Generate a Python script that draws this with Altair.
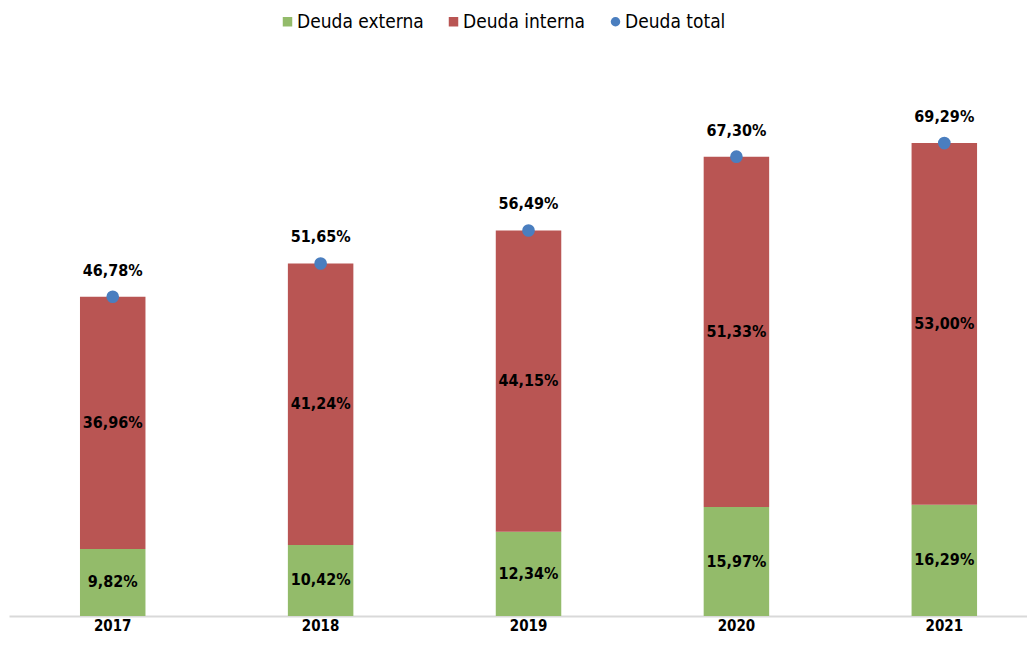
import altair as alt
import pandas as pd

years = ["2017", "2018", "2019", "2020", "2021"]
externa = [9.82, 10.42, 12.34, 15.97, 16.29]
interna = [36.96, 41.24, 44.15, 51.33, 53.00]
total = [46.78, 51.65, 56.49, 67.30, 69.29]
series = ["Deuda externa", "Deuda interna", "Deuda total"]
colors = ["#93bb6a", "#b95553", "#4a7ebf"]
shapes = ["square", "square", "circle"]

FONT = "DejaVu Sans Condensed"


def fmt(v):
    return f"{v:.2f}".replace(".", ",") + "%"


rows = []
for i, yr in enumerate(years):
    rows.append(dict(anio=yr, serie=series[0], valor=externa[i], orden=0, etiqueta=fmt(externa[i])))
    rows.append(dict(anio=yr, serie=series[1], valor=interna[i], orden=1, etiqueta=fmt(interna[i])))
bars_df = pd.DataFrame(rows)
tot_df = pd.DataFrame(dict(anio=years, serie=[series[2]] * len(years), valor=total,
                           etiqueta=[fmt(v) for v in total]))

x = alt.X(
    "anio:N", title=None,
    scale=alt.Scale(paddingInner=0.685, paddingOuter=0.2908, align=0.587),
    axis=alt.Axis(labelAngle=0, ticks=False, domainColor="#d9d9d9", domainWidth=2,
                  labelFont=FONT, labelFontSize=15, labelFontWeight="bold",
                  labelColor="black", labelPadding=2),
)
yscale = alt.Scale(domain=[0, 80], nice=False, zero=True)
cscale = alt.Scale(domain=series, range=colors)

legend = alt.Legend(
    title=None, orient="none", legendX=269, legendY=-58, direction="horizontal",
    labelFont=FONT, labelFontSize=19, labelColor="black", symbolSize=90,
    columnPadding=20, labelOffset=0, symbolStrokeWidth=0,
)

bars = alt.Chart(bars_df).mark_bar().encode(
    x=x,
    y=alt.Y("valor:Q", stack="zero", scale=yscale, axis=None),
    color=alt.Color("serie:N", scale=cscale, legend=legend),
    order=alt.Order("orden:Q"),
)

mids = alt.Chart(bars_df).transform_stack(
    stack="valor", groupby=["anio"], sort=[alt.SortField("orden")], as_=["v0", "v1"]
).transform_calculate(
    mid="(datum.v0 + datum.v1) / 2"
).mark_text(font=FONT, fontSize=16, fontWeight="bold", color="black").encode(
    x=x,
    y=alt.Y("mid:Q", scale=yscale, axis=None),
    text="etiqueta:N",
)

dots = alt.Chart(tot_df).mark_point(filled=True, opacity=1, size=160).encode(
    x=x,
    y=alt.Y("valor:Q", scale=yscale, axis=None),
    color=alt.Color("serie:N", scale=cscale, legend=legend),
    shape=alt.Shape("serie:N", scale=alt.Scale(domain=series, range=shapes), legend=legend),
)

tot_labels = alt.Chart(tot_df).mark_text(
    font=FONT, fontSize=16, fontWeight="bold", color="black", dy=-26
).encode(
    x=x,
    y=alt.Y("valor:Q", scale=yscale, axis=None),
    text="etiqueta:N",
)

chart = alt.layer(bars, mids, dots, tot_labels).properties(
    width=1018, height=546, autosize="none",
    padding={"left": 1, "top": 62, "right": 0, "bottom": 21},
).configure_view(stroke=None)

chart.save("out.html", embed_options={"renderer": "svg", "actions": False})
